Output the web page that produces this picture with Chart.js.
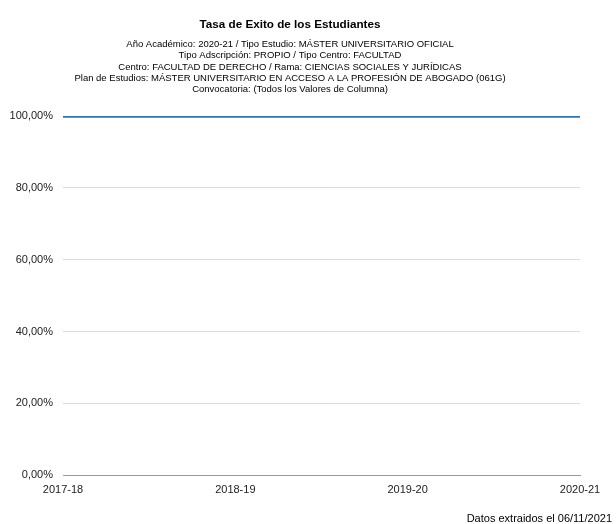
<!DOCTYPE html>
<html>
<head>
<meta charset="utf-8">
<script src="https://cdn.jsdelivr.net/npm/chart.js@4"></script>
<style>
  html, body { margin: 0; padding: 0; background: #fff; }
  #wrap { width: 616px; height: 524px; }
</style>
</head>
<body>
<div id="wrap"><canvas id="chart"></canvas></div>
<script>
var chartTitle = 'Tasa de Exito de los Estudiantes';
var subtitleLines = [
    'Año Académico: 2020-21 / Tipo Estudio: MÁSTER UNIVERSITARIO OFICIAL',
    'Tipo Adscripción: PROPIO / Tipo Centro: FACULTAD',
    'Centro: FACULTAD DE DERECHO / Rama: CIENCIAS SOCIALES Y JURÍDICAS',
    'Plan de Estudios: MÁSTER UNIVERSITARIO EN ACCESO A LA PROFESIÓN DE ABOGADO (061G)',
    'Convocatoria: (Todos los Valores de Columna)'
];
var footerText = 'Datos extraidos el 06/11/2021';

var courses = ['2017-18', '2018-19', '2019-20', '2020-21'];
var successRate = [100, 100, 100, 100];
var yTicks = [0, 20, 40, 60, 80, 100];

var FONT = "'Liberation Sans', Arial, sans-serif";

// footer text under the chart
var footerPlugin = {
    id: 'footer',
    afterDraw: function(chart) {
        var ctx = chart.ctx;
        ctx.save();
        ctx.font = '11px ' + FONT;
        ctx.fillStyle = '#000';
        ctx.textAlign = 'right';
        ctx.textBaseline = 'middle';
        ctx.fillText(footerText, 612, 519);
        ctx.restore();
    }
};

var ctx = document.getElementById('chart').getContext('2d');
var myChart = new Chart(ctx, {
    type: 'line',
    data: {
        labels: courses,
        datasets: [{
            label: 'Tasa de Éxito',
            data: successRate,
            borderColor: 'rgb(46, 117, 182)',
            backgroundColor: 'rgb(46, 117, 182)',
            borderWidth: 3.5,
            pointRadius: 0,
            fill: false,
            tension: 0
        }]
    },
    options: {
        responsive: true,
        maintainAspectRatio: false,
        animation: false,
        layout: { padding: { left: 0, right: 36, top: 0, bottom: 19.5 } },
        plugins: {
            legend: { display: false },
            tooltip: { enabled: false },
            title: {
                display: true,
                text: chartTitle,
                color: '#000',
                font: { family: FONT, size: 11.7, weight: 'bold', lineHeight: 1.2 },
                padding: { top: 17.5, bottom: 7 }
            },
            subtitle: {
                display: true,
                text: subtitleLines,
                color: '#000',
                font: { family: FONT, size: 9.5, lineHeight: '11.4px' },
                padding: { top: 0, bottom: 20.5 }
            }
        },
        scales: {
            x: {
                offset: false,
                grid: { display: false, drawTicks: false },
                border: { display: true, color: '#9a9a9a', width: 1 },
                ticks: {
                    color: '#222',
                    font: { family: FONT, size: 11 },
                    padding: 8,
                    maxRotation: 0,
                    autoSkip: false
                }
            },
            y: {
                min: 0,
                max: 100,
                afterBuildTicks: function(scale) {
                    scale.ticks = yTicks.map(function(v) { return { value: v }; });
                },
                afterFit: function(scale) { scale.width = 63; },
                grid: {
                    drawTicks: false,
                    color: function(c) { return c.tick && c.tick.value === 0 ? '#9a9a9a' : '#d9dde0'; },
                    lineWidth: 1
                },
                border: { display: false },
                ticks: {
                    color: '#222',
                    font: { family: FONT, size: 11 },
                    padding: 10,
                    callback: function(v) { return v.toFixed(2).replace('.', ',') + '%'; }
                }
            }
        }
    },
    plugins: [footerPlugin]
});
</script>
</body>
</html>
